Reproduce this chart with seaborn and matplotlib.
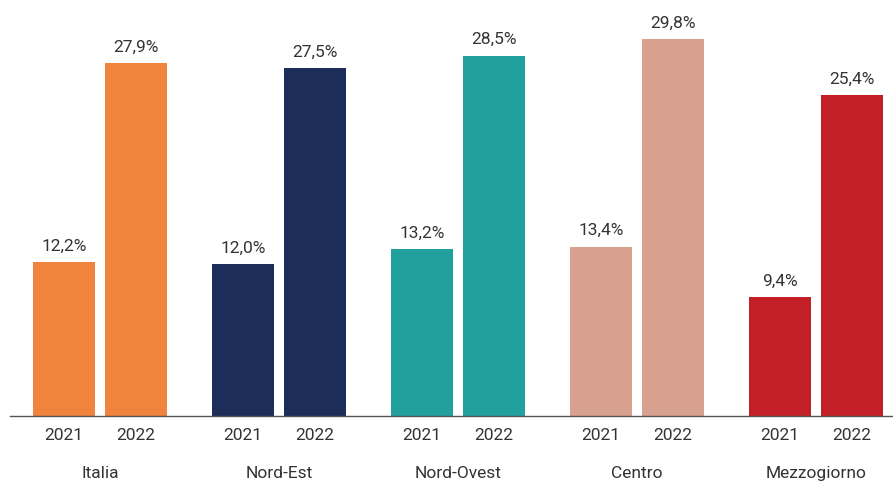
import matplotlib

matplotlib.use("Agg")

import matplotlib.pyplot as plt
import matplotlib.transforms as mtransforms
import pandas as pd
import seaborn as sns

AREAS = ["Italia", "Nord-Est", "Nord-Ovest", "Centro", "Mezzogiorno"]
YEARS = ["2021", "2022"]
VALUES_2021 = [12.2, 12.0, 13.2, 13.4, 9.4]
VALUES_2022 = [27.9, 27.5, 28.5, 29.8, 25.4]
AREA_COLORS = ["#F0843C", "#1D2D59", "#22A09E", "#D8A08E", "#C22026"]

TEXT_COLOR = "#333333"


def fmt_pct(value: float) -> str:
    return f"{value:.1f}%".replace(".", ",")


df = pd.DataFrame(
    {
        "area": AREAS * 2,
        "year": [YEARS[0]] * len(AREAS) + [YEARS[1]] * len(AREAS),
        "value": VALUES_2021 + VALUES_2022,
    }
)

sns.set_theme(style="white")
plt.rcParams["font.family"] = ["Roboto", "DejaVu Sans"]

fig = plt.figure(figsize=(8.93, 4.83), dpi=100)
ax = fig.add_axes([10 / 893, 67 / 483, 883 / 893, 416 / 483])

sns.barplot(
    data=df,
    x="area",
    y="value",
    hue="year",
    order=AREAS,
    hue_order=YEARS,
    width=0.804,
    gap=0.15,
    legend=False,
    ax=ax,
)

trans = mtransforms.blended_transform_factory(ax.transData, ax.transAxes)

# one colour per area, shared by both years
for container, year in zip(ax.containers, YEARS):
    for i, bar in enumerate(container):
        bar.set_facecolor(AREA_COLORS[i])
        bar.set_edgecolor("none")
        bar.set_alpha(1)
        x = bar.get_x() + bar.get_width() / 2
        ax.annotate(
            fmt_pct(bar.get_height()),
            (x, bar.get_height()),
            xytext=(0, 6),
            textcoords="offset points",
            ha="center",
            va="bottom",
            fontsize=12.5,
            color=TEXT_COLOR,
        )
        # year label under each bar
        ax.text(
            x,
            -0.047,
            year,
            transform=trans,
            ha="center",
            va="center",
            fontsize=12.5,
            color=TEXT_COLOR,
        )

ax.set_xlim(-0.503, 4.43)
ax.set_ylim(0, 32.9)
ax.set_xlabel("")
ax.set_ylabel("")
ax.set_yticks([])
ax.set_xticks(range(len(AREAS)))
ax.set_xticklabels(AREAS, fontsize=12.5, color=TEXT_COLOR)
ax.tick_params(axis="x", length=0, pad=36)

for side in ["top", "right", "left"]:
    ax.spines[side].set_visible(False)
ax.spines["bottom"].set_color("#555555")
ax.spines["bottom"].set_linewidth(1)

fig.savefig("out.png", dpi=100)
